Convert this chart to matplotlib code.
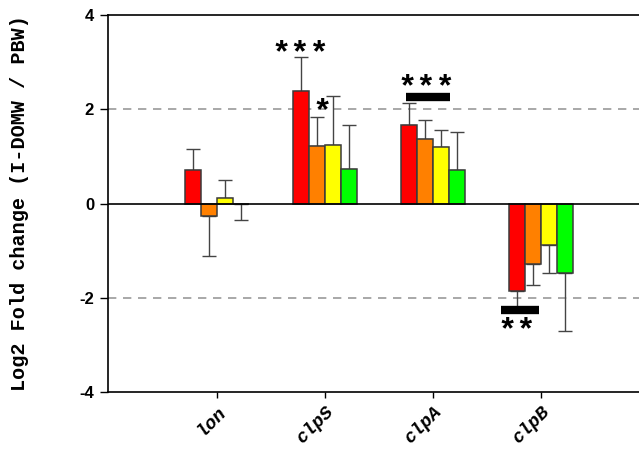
import numpy as np
import matplotlib
matplotlib.use("Agg")
import matplotlib.pyplot as plt

genes = ["lon", "clpS", "clpA", "clpB"]
series_colors = ["#ff0000", "#ff8000", "#ffff00", "#00ff00"]

# log2 fold change per gene (rows) for each of the four conditions (columns)
means = [
    [0.72, -0.26, 0.11, -0.02],
    [2.38, 1.23, 1.25, 0.74],
    [1.67, 1.37, 1.19, 0.72],
    [-1.86, -1.29, -0.88, -1.48],
]
errors = [
    [0.43, 0.85, 0.38, 0.33],
    [0.73, 0.61, 1.04, 0.93],
    [0.46, 0.40, 0.38, 0.80],
    [0.36, 0.43, 0.59, 1.23],
]

# significance annotations: (gene index, x offset, y, text)
star_labels = [
    (1, -0.225, 3.16, "***"),
    (1, -0.03, 1.94, "*"),
    (2, -0.06, 2.45, "***"),
    (3, -0.22, -2.71, "**"),
]
# horizontal significance bars: (gene index, x start offset, x end offset, y)
sig_bars = [
    (2, -0.25, 0.16, 2.27),
    (3, -0.37, -0.02, -2.26),
]

fig = plt.figure(figsize=(6.39, 4.58), dpi=100)
ax = fig.add_axes([108 / 639, 1 - 392 / 458, 1 - 108 / 639, (392 - 15) / 458])

x = np.arange(len(genes))
w = 0.148
means_arr = np.array(means)
err_arr = np.array(errors)

for j, col in enumerate(series_colors):
    pos = x + (j - 1.5) * w
    vals = means_arr[:, j]
    errs = err_arr[:, j]
    ax.bar(pos, vals, width=w, color=col, edgecolor="#3a3a3a", linewidth=1.1, zorder=3)
    lower = np.where(vals < 0, errs, 0)
    upper = np.where(vals >= 0, errs, 0)
    ax.errorbar(pos, vals, yerr=[lower, upper], fmt="none", ecolor="#444444",
                elinewidth=1.0, capsize=5, capthick=1.0, zorder=2)

ax.axhline(0, color="black", linewidth=1.2, zorder=4)
for yv in (2, -2):
    ax.axhline(yv, color="#9a9a9a", linewidth=1.2, linestyle=(0, (5, 4)), zorder=1)

for gi, x0, x1, yv in sig_bars:
    ax.plot([gi + x0, gi + x1], [yv, yv], color="black", linewidth=6,
            solid_capstyle="butt", zorder=5)

for gi, dx, yv, txt in star_labels:
    ax.text(gi + dx, yv, txt, ha="center", va="center", fontsize=23,
            fontweight="bold", family="Liberation Mono", zorder=6)

ax.set_xlim(-1.01, 3.91)
ax.set_ylim(-4, 4)
ax.set_yticks([-4, -2, 0, 2, 4])
ax.set_yticklabels(["-4", "-2", "0", "2", "4"], fontsize=12, fontweight="bold",
                   family="Liberation Sans")
ax.set_xticks(x)
ax.set_xticklabels(genes, rotation=45, ha="right", rotation_mode="anchor",
                   fontsize=13.5, fontweight="bold", fontstyle="italic",
                   family="Liberation Mono")
ax.tick_params(axis="y", direction="out", length=6, width=1, pad=4)
ax.tick_params(axis="x", direction="out", length=4, width=1, pad=4)

ax.set_ylabel("Log2 Fold change (I-DOMW / PBW)", fontsize=14.5, fontweight="bold",
              family="Liberation Mono", labelpad=36)

for s in ("left", "top", "bottom"):
    ax.spines[s].set_linewidth(1.2)
ax.spines["right"].set_visible(False)
ax.patch.set_alpha(0)

fig.savefig("out.png", dpi=100)
